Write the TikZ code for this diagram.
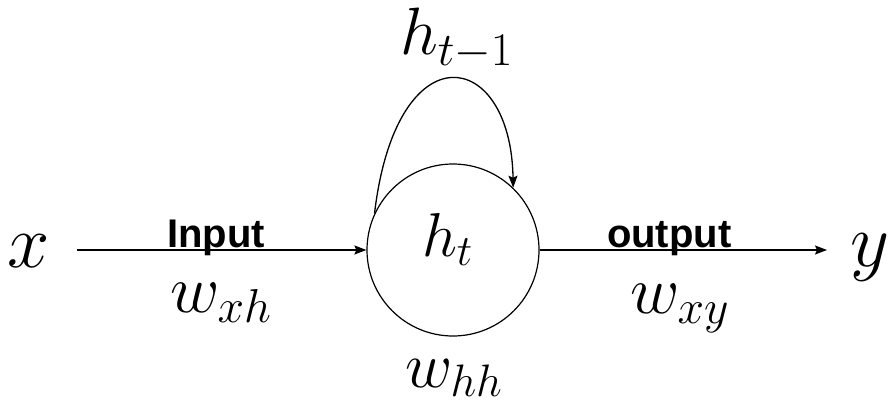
\RequirePackage{fix-cm}
\documentclass[tikz,border=0pt]{standalone}
\usepackage{fontspec}
\newfontfamily\labelsans{Liberation Sans}
\usetikzlibrary{arrows.meta}
\newcommand\mvar[2]{{\fontsize{#2}{#2}\selectfont$#1$}}
\tikzset{
  conn/.style={line width=1.5pt,-{Stealth[length=12pt,width=9pt,inset=2pt]}},
  lbl/.style={anchor=base west,inner sep=0pt,outer sep=0pt},
  wordlbl/.style={lbl,font=\labelsans\bfseries\fontsize{40}{40}\selectfont},
  cell/.style={circle,draw,line width=1.2pt,minimum size=172pt,inner sep=0pt}
}
\begin{document}
\begin{tikzpicture}[x=1pt,y=-1pt]
\path[use as bounding box,fill=white] (0,0) rectangle (890,414);
\node[cell] (c) at (453,250) {};
\node[lbl] (xin) at (8,267) {\mvar{x}{76}};
\node[lbl] (yout) at (850,266) {\mvar{y}{76}};
\coordinate (xs) at (77,250);
\coordinate (ye) at (827,250);
\node[lbl] (ht) at (422,256) {\mvar{h_t}{62}};
\node[lbl] (htm) at (400,55) {\mvar{h_{t-1}}{67}};
\node[wordlbl] (inp) at (167,247) {Input};
\node[wordlbl] (outp) at (607,247) {output};
\node[lbl] (wxh) at (170,312) {\mvar{w_{xh}}{68}};
\node[lbl] (wxy) at (630,313) {\mvar{w_{xy}}{68}};
\node[lbl] (whh) at (405,387) {\mvar{w_{hh}}{65}};
\draw[conn] (xs) -- (c.west);
\draw[conn] (c.east) -- (ye);
\draw[line width=1.3pt,-{Stealth[length=12pt,width=9pt,inset=2pt]}] (c.155) .. controls +(22,-185) and +(-2,-140) .. (c.46);
\end{tikzpicture}
\end{document}
